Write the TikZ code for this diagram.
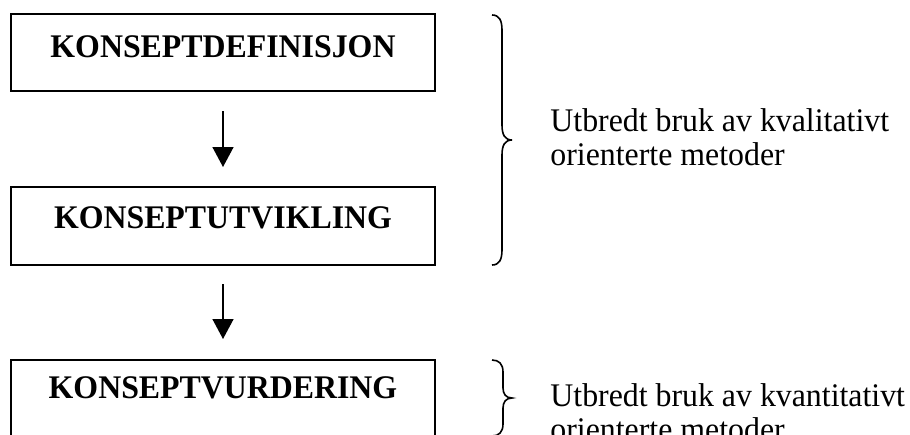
\documentclass[tikz,border=0pt]{standalone}
\usepackage{fontspec}
\setmainfont[FakeStretch=0.965]{Liberation Serif}
\usetikzlibrary{arrows.meta,calc}

\tikzset{
  stagebox/.style={draw, line width=1pt, inner sep=0pt, minimum width=212pt,
    font=\fontsize{16.5}{18}\selectfont\bfseries},
  flowarrow/.style={line width=0.75pt, -{Triangle[width=10.5pt,length=10pt]}},
  bracepath/.style={line width=0.8pt},
  note/.style={anchor=north west, inner sep=0pt, align=left,
    font=\fontsize{16.5}{17}\selectfont}
}

\begin{document}
\begin{tikzpicture}[x=0.5pt,y=-0.5pt]
  \useasboundingbox (0,0) rectangle (910,434);

  % process stages
  \node[stagebox, text height=21.5pt, text depth=17pt] (def) at (223,52.5) {KONSEPTDEFINISJON};
  \node[stagebox, text height=20.5pt, text depth=18.5pt] (utv) at (223,226) {KONSEPTUTVIKLING};
  \node[stagebox, text height=19pt, text depth=19.5pt] (vur) at (223,398.5) {KONSEPTVURDERING};

  % arrows between stages
  \draw[flowarrow] ($(def.south)+(0,19)$) -- ($(utv.north)+(0,-19)$);
  \draw[flowarrow] ($(utv.south)+(0,18)$) -- ($(vur.north)+(0,-20)$);

  % brace over the first two stages
  \draw[bracepath] (492,15) .. controls (499,15) and (502,20) .. (502,30)
    -- (502,125) .. controls (502,135) and (505,140) .. (512,140)
    .. controls (505,140) and (502,145) .. (502,155)
    -- (502,250) .. controls (502,260) and (499,265) .. (492,265);
  \node[note] (kval) at (550,108) {Utbredt bruk av kvalitativt\\orienterte metoder};

  % brace beside the last stage
  \draw[bracepath] (492,360) .. controls (499,360) and (503,364) .. (503,372)
    -- (503,388) .. controls (503,394) and (506,398) .. (512,398)
    .. controls (506,398) and (503,402) .. (503,408)
    -- (503,424) .. controls (503,432) and (499,436) .. (492,436);
  \node[note] (kvan) at (550,383) {Utbredt bruk av kvantitativt\\orienterte metoder};
\end{tikzpicture}
\end{document}
